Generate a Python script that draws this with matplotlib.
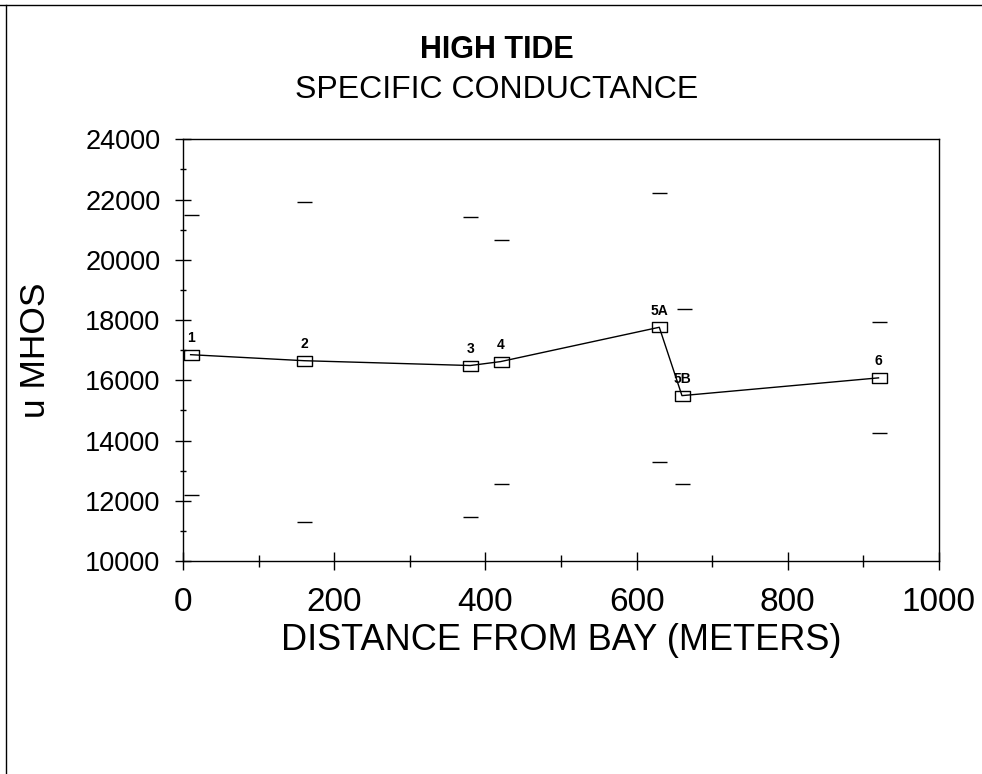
import matplotlib
matplotlib.use("Agg")
import matplotlib.pyplot as plt
from matplotlib.lines import Line2D
from matplotlib.path import Path
from matplotlib.ticker import MultipleLocator

plt.rcParams['font.family'] = ['Liberation Sans', 'DejaVu Sans']

# Station data
stations = ['1', '2', '3', '4', '5A', '5B', '6']
distance = [10, 160, 380, 420, 630, 660, 920]
mean_cond = [16850, 16650, 16490, 16620, 17760, 15490, 16080]
max_cond = [21480, 21920, 21420, 20650, 22220, 18370, 17930]
min_cond = [12200, 11290, 11470, 12540, 13300, 12550, 14240]
# 5B's upper dash sits slightly right of its marker in the original
dash_x_max = [10, 160, 380, 420, 630, 663, 920]
dash_x_min = [10, 160, 380, 420, 630, 660, 920]

fig = plt.figure(figsize=(9.82, 7.74), dpi=100)
ax = fig.add_axes([0.1864, 0.2752, 0.7698, 0.5448])

# hollow rectangular marker, wider than tall
rect = Path([(-1, -0.73), (1, -0.73), (1, 0.73), (-1, 0.73), (-1, -0.73)],
            [Path.MOVETO, Path.LINETO, Path.LINETO, Path.LINETO, Path.CLOSEPOLY])
ax.plot(distance, mean_cond, color='black', lw=1.0, marker=rect,
        markersize=10.8, markerfacecolor='none', markeredgecolor='black',
        markeredgewidth=1.0)

ax.plot(dash_x_max, max_cond, ls='none', marker='_', markersize=10.8,
        markeredgewidth=1.0, color='black')
ax.plot(dash_x_min, min_cond, ls='none', marker='_', markersize=10.8,
        markeredgewidth=1.0, color='black')

for s, x, y in zip(stations, distance, mean_cond):
    ax.annotate(s, (x, y), xytext=(0, 7), textcoords='offset points',
                ha='center', va='bottom', fontsize=10, fontweight='bold')

ax.set_xlim(0, 1000)
ax.set_ylim(10000, 24000)
ax.xaxis.set_major_locator(MultipleLocator(200))
ax.xaxis.set_minor_locator(MultipleLocator(100))
ax.yaxis.set_major_locator(MultipleLocator(2000))
ax.yaxis.set_minor_locator(MultipleLocator(1000))

ax.tick_params(axis='x', which='major', direction='inout', length=13,
               width=1, pad=12, labelsize=24)
ax.tick_params(axis='x', which='minor', direction='inout', length=8, width=1)
ax.tick_params(axis='y', which='major', direction='inout', length=11.5,
               width=1, pad=10.5, labelsize=19.5)
ax.tick_params(axis='y', which='minor', direction='inout', length=5, width=1)

for sp in ax.spines.values():
    sp.set_linewidth(1.0)

ax.set_xlabel('DISTANCE FROM BAY (METERS)', fontsize=26, labelpad=3.5)
ax.set_ylabel('u MHOS', fontsize=25.5, labelpad=24)

fig.text(0.506, 1 - 50 / 774, 'HIGH TIDE', ha='center', va='center',
         fontsize=22, fontweight='bold')
fig.text(0.5056, 1 - 90 / 774, 'SPECIFIC CONDUCTANCE', ha='center',
         va='center', fontsize=23)

# page frame (top and left edges visible)
fig.add_artist(Line2D([0, 1], [1 - 5 / 774, 1 - 5 / 774], color='black',
                      lw=1.0, transform=fig.transFigure))
fig.add_artist(Line2D([6 / 982, 6 / 982], [0, 1 - 5 / 774], color='black',
                      lw=1.0, transform=fig.transFigure))

fig.savefig('out.png', dpi=100)
